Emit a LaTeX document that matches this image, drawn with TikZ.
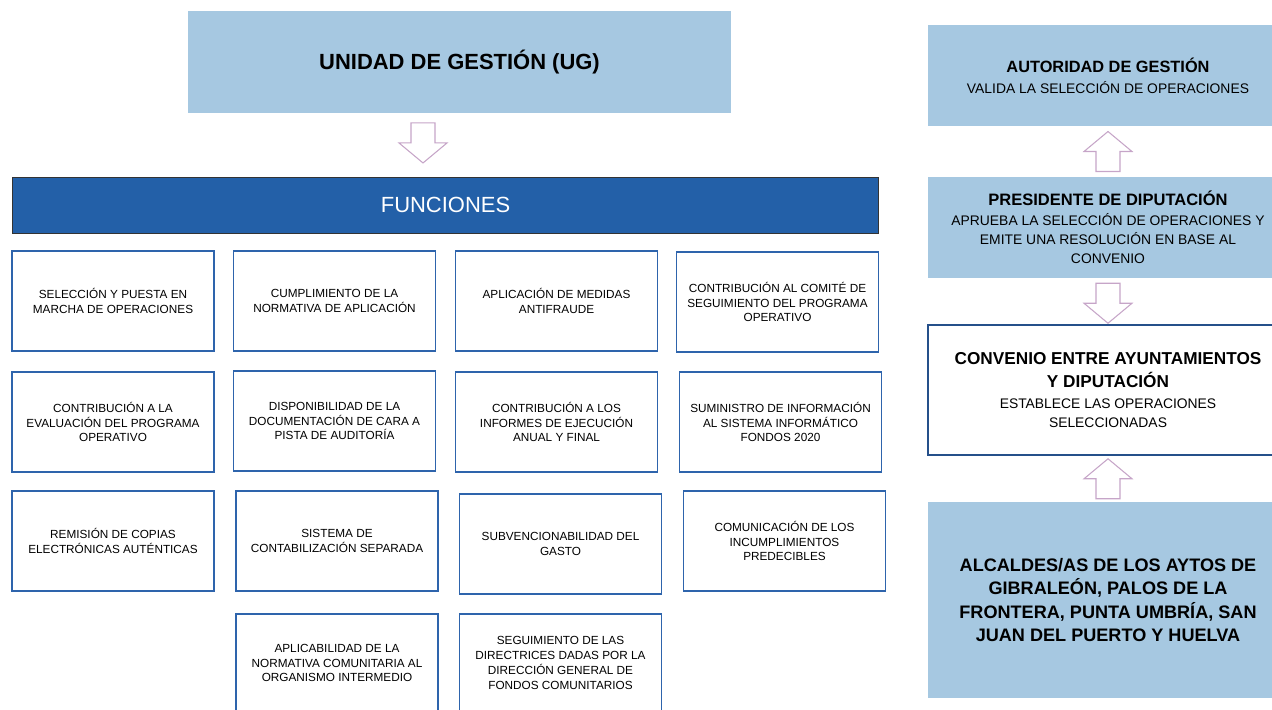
\documentclass[tikz,border=0pt]{standalone}
\usepackage{fontspec}
\setmainfont{Liberation Sans}
\usetikzlibrary{calc}

\definecolor{azulclaro}{HTML}{A6C8E1}
\definecolor{azulfuerte}{HTML}{2360A8}
\definecolor{azulborde}{HTML}{2E64AC}
\definecolor{violeta}{HTML}{C6A5C8}

\begin{document}
\begin{tikzpicture}[x=0.02cm,y=-0.02cm,
	caja/.style={draw=azulborde, line width=1.1pt, fill=white, minimum width=4.04cm,
		minimum height=2cm, align=center, inner sep=2pt, font=\fontsize{6.7}{8.5}\selectfont},
	bloque/.style={fill=azulclaro, minimum width=7.2cm, align=center, inner sep=2pt},
	flecha/.pic={\draw[violeta, line width=0.6pt, fill=white]
		(-12,-20) -- (12,-20) -- (12,0) -- (24,0) -- (0,20) -- (-24,0) -- (-12,0) -- cycle;}]
	\useasboundingbox (0,0) rectangle (1272,710);

	% Unidad de gestion y funciones
	\node[bloque, minimum width=10.86cm, minimum height=2.04cm,
		font=\fontsize{12.5}{15}\selectfont\bfseries] (ug) at (459.5,62) {UNIDAD DE GESTIÓN (UG)};
	\node[draw=black!80, line width=0.5pt, fill=azulfuerte, text=white, minimum width=17.34cm,
		minimum height=1.12cm, font=\fontsize{12.5}{15}\selectfont] (fun) at (445.5,205) {FUNCIONES};
	\pic at ($(ug.south)!0.5!(fun.north)+(-29.5,-2)$) {flecha};

	% Fila 1
	\node[caja] (sel) at (113,301) {SELECCIÓN Y PUESTA EN\\MARCHA DE OPERACIONES};
	\node[caja] (cum) at (334.5,301) {CUMPLIMIENTO DE LA\\NORMATIVA DE APLICACIÓN};
	\node[caja] (anti) at (556.5,301) {APLICACIÓN DE MEDIDAS\\ANTIFRAUDE};
	\node[caja] (comi) at (777.5,302) {CONTRIBUCIÓN AL COMITÉ DE\\SEGUIMIENTO DEL PROGRAMA\\OPERATIVO};

	% Fila 2
	\node[caja] (eval) at (113,422) {CONTRIBUCIÓN A LA\\EVALUACIÓN DEL PROGRAMA\\OPERATIVO};
	\node[caja] (disp) at (334.5,421) {DISPONIBILIDAD DE LA\\DOCUMENTACIÓN DE CARA A\\PISTA DE AUDITORÍA};
	\node[caja] (inf) at (556.5,422) {CONTRIBUCIÓN A LOS\\INFORMES DE EJECUCIÓN\\ANUAL Y FINAL};
	\node[caja] (sum) at (780.5,422) {SUMINISTRO DE INFORMACIÓN\\AL SISTEMA INFORMÁTICO\\FONDOS 2020};

	% Fila 3
	\node[caja] (rem) at (113,541) {REMISIÓN DE COPIAS\\ELECTRÓNICAS AUTÉNTICAS};
	\node[caja] (cont) at (337,541) {SISTEMA DE\\CONTABILIZACIÓN SEPARADA};
	\node[caja] (subv) at (560.5,544) {SUBVENCIONABILIDAD DEL\\GASTO};
	\node[caja] (incu) at (784.5,541) {COMUNICACIÓN DE LOS\\INCUMPLIMIENTOS\\PREDECIBLES};

	% Fila 4
	\node[caja, minimum height=1.96cm] (apli) at (337,663) {APLICABILIDAD DE LA\\NORMATIVA COMUNITARIA AL\\ORGANISMO INTERMEDIO};
	\node[caja, minimum height=1.96cm] (dir) at (560.5,663) {SEGUIMIENTO DE LAS\\DIRECTRICES DADAS POR LA\\DIRECCIÓN GENERAL DE\\FONDOS COMUNITARIOS};

	% Columna derecha
	\node[bloque, minimum height=2.02cm, font=\fontsize{7.9}{10.8}\selectfont] (aut) at (1108,75.5)
		{{\fontsize{9.3}{11}\selectfont\bfseries AUTORIDAD DE GESTIÓN}\\[1.1pt]VALIDA LA SELECCIÓN DE OPERACIONES};
	\node[bloque, minimum height=2.02cm, font=\fontsize{7.9}{10.8}\selectfont] (pres) at (1108,227.5)
		{{\fontsize{9.4}{11}\selectfont\bfseries PRESIDENTE DE DIPUTACIÓN}\\[0.5pt]APRUEBA LA SELECCIÓN DE OPERACIONES Y\\EMITE UNA RESOLUCIÓN EN BASE AL\\CONVENIO};
	\node[bloque, fill=white, draw=azulborde!80!black, line width=1pt, minimum height=2.6cm,
		font=\fontsize{7.9}{10.8}\selectfont] (conv) at (1108,390)
		{{\fontsize{9.8}{11}\selectfont\bfseries CONVENIO ENTRE AYUNTAMIENTOS}\\[2.8pt]{\fontsize{9.8}{11}\selectfont\bfseries Y DIPUTACIÓN}\\[1.1pt]ESTABLECE LAS OPERACIONES\\SELECCIONADAS};
	\node[bloque, minimum height=3.92cm, font=\fontsize{10.3}{13.2}\selectfont\bfseries] (alc) at (1108,600)
		{ALCALDES/AS DE LOS AYTOS DE\\GIBRALEÓN, PALOS DE LA\\FRONTERA, PUNTA UMBRÍA, SAN\\JUAN DEL PUERTO Y HUELVA};

	% Flechas
	\pic[rotate=180] at ($(aut.south)!0.5!(pres.north)$) {flecha};
	\pic at ($(pres.south)!0.5!(conv.north)+(0,2)$) {flecha};
	\pic[rotate=180] at ($(conv.south)!0.5!(alc.north)$) {flecha};
\end{tikzpicture}
\end{document}
